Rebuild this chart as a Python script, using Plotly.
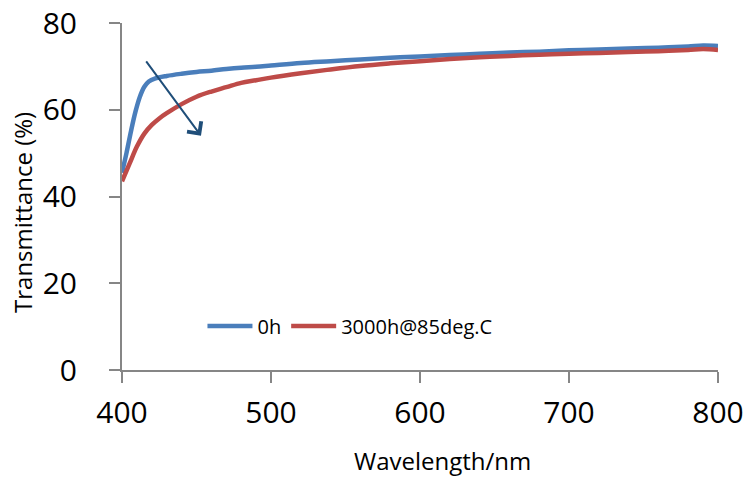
import plotly.graph_objects as go

wl_0h = [400, 403, 406, 409, 412, 415, 418, 422, 430, 440, 450, 460, 470, 480, 490, 500,
         520, 540, 560, 580, 600, 620, 640, 660, 680, 700, 720, 740, 760, 780, 790, 800]
t_0h = [45.5, 50.0, 55.0, 59.5, 63.0, 65.3, 66.5, 67.2, 67.8, 68.3, 68.7, 69.0, 69.4, 69.7, 69.9, 70.2,
        70.8, 71.2, 71.6, 72.0, 72.3, 72.6, 72.9, 73.2, 73.4, 73.7, 73.9, 74.1, 74.3, 74.6, 74.8, 74.7]

wl_3000h = [400, 405, 410, 415, 420, 425, 430, 440, 450, 460, 470, 480, 490, 500,
            520, 540, 560, 580, 600, 620, 640, 660, 680, 700, 720, 740, 760, 780, 790, 800]
t_3000h = [43.5, 47.5, 51.5, 54.5, 56.5, 58.0, 59.2, 61.3, 63.0, 64.2, 65.2, 66.2, 66.8, 67.4,
           68.4, 69.3, 70.1, 70.7, 71.2, 71.7, 72.1, 72.4, 72.7, 72.9, 73.1, 73.3, 73.5, 73.8, 74.0, 73.8]

x_ticks = [400, 500, 600, 700, 800]
y_ticks = [0, 20, 40, 60, 80]

FONT = "Open Sans"
AXC = "#868686"

fig = go.Figure()
fig.add_trace(go.Scatter(x=wl_0h, y=t_0h, mode="lines", name="0h",
                         line=dict(color="#4A7EBB", width=4.5, shape="spline")))
fig.add_trace(go.Scatter(x=wl_3000h, y=t_3000h, mode="lines", name="3000h@85deg.C",
                         line=dict(color="#BE4B48", width=4.5, shape="spline")))

fig.add_annotation(x=453, y=54, ax=415.5, ay=71.5, xref="x", yref="y", axref="x", ayref="y",
                   text="", showarrow=True, arrowhead=4, arrowsize=1.7, arrowwidth=2,
                   arrowcolor="#1F4E79")

fig.add_annotation(text="Transmittance (%)", xref="paper", yref="paper", x=-0.168, y=0.455,
                   showarrow=False, textangle=-90, font=dict(size=24, family=FONT, color="#000"),
                   xanchor="center", yanchor="middle")
fig.add_annotation(text="Wavelength/nm", xref="paper", yref="paper", x=0.537, y=-0.262,
                   showarrow=False, font=dict(size=24, family=FONT, color="#000"),
                   xanchor="center", yanchor="middle")

fig.update_layout(
    width=748, height=478,
    margin=dict(l=122, r=30, t=23, b=108),
    paper_bgcolor="white", plot_bgcolor="white",
    font=dict(family=FONT, color="#000000"),
    showlegend=True,
    legend=dict(orientation="h", x=0.135, y=0.127, xanchor="left", yanchor="middle",
                font=dict(size=20, family=FONT), bgcolor="rgba(0,0,0,0)", itemwidth=45),
    xaxis=dict(range=[400, 800], tickvals=x_ticks, ticktext=[str(v) for v in x_ticks],
               showgrid=False, zeroline=False, showline=True, linecolor=AXC, linewidth=2,
               ticks="outside", tickcolor=AXC, ticklen=11, tickwidth=2, automargin=False,
               tickfont=dict(size=30, family=FONT), ticklabelstandoff=4),
    yaxis=dict(range=[0, 80], tickvals=y_ticks, ticktext=[str(v) for v in y_ticks],
               showgrid=False, zeroline=False, showline=True, linecolor=AXC, linewidth=2,
               ticks="outside", tickcolor=AXC, ticklen=11, tickwidth=2, automargin=False,
               tickfont=dict(size=30, family=FONT), ticklabelstandoff=26),
)

fig.write_html("out.html", config={"displayModeBar": False},
               post_script="document.body.style.margin='0';")
